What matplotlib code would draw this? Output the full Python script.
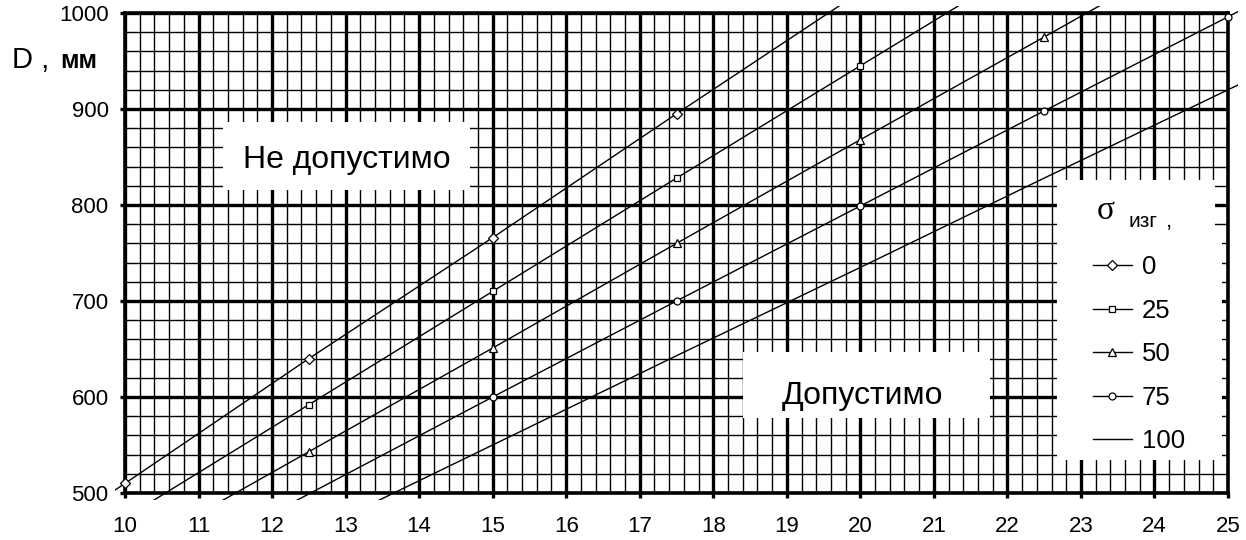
import numpy as np
import matplotlib.pyplot as plt
from matplotlib.patches import Rectangle
from matplotlib.lines import Line2D
from matplotlib.ticker import MultipleLocator

plt.rcParams['font.family'] = ['Liberation Sans', 'DejaVu Sans']

# толщина (ось X) и диаметр D, мм для разных sigma_изг
tolshchina = [7.5, 10, 12.5, 15, 17.5, 20, 22.5, 25, 27.5]
d_0 = [382, 510, 640, 766, 895, 1022, 1150, 1278, 1406]
d_25 = [356, 474, 592, 710, 828, 945, 1062, 1180, 1297]
d_50 = [327, 435, 543, 651, 760, 868, 975, 1083, 1191]
d_75 = [298, 398, 499, 600, 700, 799, 898, 996, 1096]
d_100 = [272, 365, 457, 550, 643, 735, 828, 920, 1012]
sigma = ['0', '25', '50', '75', '100']
markers = ['D', 's', '^', 'o', None]

W, H = 1246, 540


def px(x, y):
    # пиксели картинки -> доли фигуры
    return x / W, 1 - y / H


fig = plt.figure(figsize=(W / 100, H / 100), dpi=100)
ax = fig.add_axes([125 / W, 1 - 493 / H, 1103 / W, 480 / H])
ax.set_xlim(10, 25)
ax.set_ylim(500, 1000)

ax.xaxis.set_major_locator(MultipleLocator(1))
ax.xaxis.set_minor_locator(MultipleLocator(0.2))
ax.yaxis.set_major_locator(MultipleLocator(100))
ax.yaxis.set_minor_locator(MultipleLocator(20))
ax.grid(which='minor', color='black', linewidth=1.0, zorder=0)
ax.grid(which='major', color='black', linewidth=2.4, zorder=0)
ax.set_axisbelow(True)
ax.tick_params(which='major', direction='out', length=3.8, width=2.4,
               labelsize=16)
ax.tick_params(axis='x', pad=13)
ax.tick_params(axis='y', pad=8)
ax.tick_params(which='minor', length=0)
for s in ax.spines.values():
    s.set_linewidth(2.6)

clip = Rectangle((-10 / 1103, -7 / 480), 1 + 20 / 1103, 1 + 14 / 480,
                 transform=ax.transAxes, visible=False)
ax.add_patch(clip)

handles = []
for d, lab, m in zip([d_0, d_25, d_50, d_75, d_100], sigma, markers):
    vis = [500 <= v <= 1000 for v in d]
    ln, = ax.plot(tolshchina, d, color='black', linewidth=1.0,
                  marker=m if m else 'None', markevery=vis,
                  markersize=5 if m != '^' else 6,
                  markerfacecolor='white', markeredgecolor='black',
                  markeredgewidth=0.9, zorder=3)
    ln.set_clip_path(clip)
    handles.append(Line2D([], [], color='black', linewidth=1.0,
                          marker=m if m else 'None',
                          markersize=5 if m != '^' else 6,
                          markerfacecolor='white', markeredgecolor='black',
                          markeredgewidth=0.9))


# белые поля с надписями
def box(x0, y0, x1, y1):
    fx0, fy1 = px(x0, y0)
    fx1, fy0 = px(x1, y1)
    ax.add_artist(Rectangle((fx0, fy0), fx1 - fx0, fy1 - fy0,
                            facecolor='white', edgecolor='none',
                            transform=fig.transFigure, clip_on=False,
                            zorder=5))


box(223, 122, 470, 190)
fig.text(*px(347, 168), 'Не допустимо', fontsize=23, ha='center',
         va='baseline', zorder=6)
box(743, 352, 990, 418)
fig.text(*px(863, 404), 'Допустимо', fontsize=23, ha='center',
         va='baseline', zorder=6)

# легенда
box(1057, 180, 1215, 237)
box(1057, 237, 1222, 460)
fig.text(*px(1097, 219), 'σ', fontsize=24, family='Liberation Serif',
         va='baseline', zorder=6)
fig.text(*px(1128, 227), 'изг', fontsize=15, va='baseline', zorder=6)
fig.text(*px(1166, 227), ',', fontsize=16, va='baseline', zorder=6)

leg = ax.legend(handles, sigma, loc='upper left',
                bbox_to_anchor=px(1093, 255), bbox_transform=fig.transFigure,
                frameon=False, fontsize=18.5,
                handlelength=1.5, handletextpad=0.4, labelspacing=0.76,
                borderpad=0, borderaxespad=0)
leg.set_zorder(7)

# подпись оси Y
fig.text(*px(12, 68), 'D ,', fontsize=21, va='baseline')
fig.text(*px(60, 68), 'мм', fontsize=18, fontweight='bold', va='baseline')

fig.savefig('out.png', dpi=100)
